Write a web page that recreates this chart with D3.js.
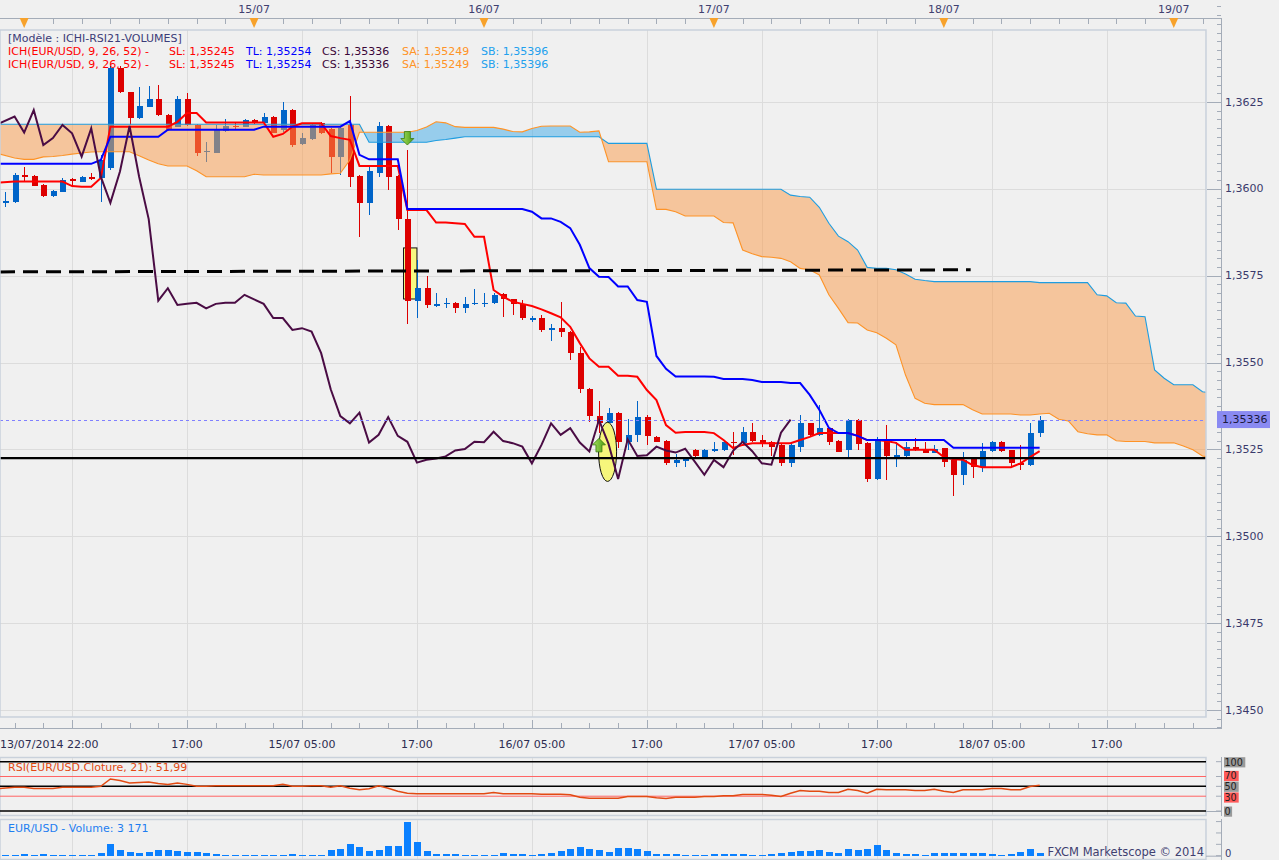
<!DOCTYPE html>
<html><head><meta charset="utf-8"><title>EUR/USD Ichimoku</title>
<script src="https://cdn.jsdelivr.net/npm/d3@7"></script>
<style>
html,body{margin:0;padding:0;background:#f0f0f0;overflow:hidden}
svg{display:block}
text{font-family:"DejaVu Sans",Verdana,sans-serif;font-size:11px}
</style></head><body>
<svg id="chart" width="1279" height="860"></svg>
<script>
// ---------- DATA (hourly candles, index 0 = 13/07/2014 22:00) ----------
const opens = [1.35961,1.35963,1.36040,1.36037,1.36011,1.35980,1.35992,1.36028,1.36021,1.36033,
1.36031,1.36060,1.36347,1.36278,1.36203,1.36237,1.36258,1.36213,1.36179,1.36258,
1.36184,1.36107,1.36104,1.36167,1.36182,1.36179,1.36198,1.36189,1.36208,1.36170,
1.36227,1.36128,1.36143,1.36189,1.36172,1.36093,1.36184,1.36037,1.35960,1.36047,
1.36181,1.36037,1.35913,1.35678,1.35714,1.35664,1.35668,1.35672,1.35656,1.35668,
1.35671,1.35671,1.35697,1.35682,1.35669,1.35626,1.35628,1.35594,1.35599,1.35589,
1.35527,1.35423,1.35346,1.35325,1.35356,1.35270,1.35292,1.35343,1.35287,1.35274,
1.35212,1.35218,1.35249,1.35228,1.35245,1.35247,1.35272,1.35268,1.35301,1.35277,
1.35272,1.35263,1.35210,1.35258,1.35325,1.35292,1.35311,1.35275,1.35247,1.35335,
1.35268,1.35165,1.35279,1.35231,1.35231,1.35256,1.35249,1.35241,1.35253,1.35220,
1.35177,1.35224,1.35199,1.35245,1.35272,1.35247,1.35210,1.35206,1.35297];
const highs = [1.35992,1.36046,1.36063,1.36039,1.36013,1.35997,1.36031,1.36031,1.36037,1.36046,
1.36098,1.36354,1.36354,1.36279,1.36294,1.36296,1.36299,1.36216,1.36267,1.36275,
1.36187,1.36136,1.36184,1.36200,1.36189,1.36201,1.36200,1.36218,1.36210,1.36251,
1.36230,1.36160,1.36189,1.36193,1.36175,1.36178,1.36267,1.36040,1.36064,1.36193,
1.36184,1.36040,1.36112,1.35795,1.35749,1.35700,1.35685,1.35674,1.35690,1.35711,
1.35700,1.35701,1.35700,1.35683,1.35680,1.35634,1.35637,1.35611,1.35675,1.35591,
1.35546,1.35427,1.35388,1.35369,1.35358,1.35337,1.35388,1.35349,1.35289,1.35277,
1.35237,1.35228,1.35251,1.35251,1.35270,1.35274,1.35301,1.35314,1.35327,1.35292,
1.35275,1.35266,1.35268,1.35349,1.35327,1.35378,1.35312,1.35277,1.35338,1.35338,
1.35272,1.35285,1.35320,1.35272,1.35270,1.35282,1.35272,1.35263,1.35255,1.35225,
1.35244,1.35226,1.35268,1.35274,1.35273,1.35249,1.35263,1.35325,1.35346];
const lows = [1.35949,1.35959,1.36021,1.36007,1.35977,1.35977,1.35991,1.36006,1.36020,1.36026,
1.35963,1.36054,1.36276,1.36184,1.36202,1.36236,1.36211,1.36167,1.36178,1.36181,
1.36095,1.36078,1.36103,1.36165,1.36170,1.36178,1.36187,1.36187,1.36161,1.36165,
1.36121,1.36126,1.36141,1.36158,1.36045,1.36040,1.36006,1.35862,1.35925,1.36035,
1.35997,1.35882,1.35611,1.35628,1.35656,1.35661,1.35656,1.35642,1.35642,1.35666,
1.35661,1.35670,1.35630,1.35637,1.35623,1.35618,1.35589,1.35563,1.35573,1.35508,
1.35412,1.35330,1.35297,1.35297,1.35253,1.35249,1.35270,1.35263,1.35271,1.35205,
1.35200,1.35199,1.35226,1.35226,1.35243,1.35246,1.35234,1.35266,1.35272,1.35258,
1.35231,1.35203,1.35199,1.35244,1.35290,1.35290,1.35263,1.35243,1.35229,1.35249,
1.35157,1.35163,1.35162,1.35200,1.35228,1.35246,1.35239,1.35239,1.35199,1.35117,
1.35148,1.35167,1.35186,1.35243,1.35243,1.35198,1.35191,1.35203,1.35285];
const closes = [1.35965,1.36040,1.36035,1.36009,1.35980,1.35994,1.36026,1.36024,1.36035,1.36028,
1.36083,1.36347,1.36278,1.36203,1.36239,1.36258,1.36213,1.36170,1.36258,1.36184,
1.36104,1.36109,1.36170,1.36181,1.36177,1.36198,1.36189,1.36208,1.36162,1.36227,
1.36126,1.36146,1.36184,1.36160,1.36093,1.36174,1.36035,1.35960,1.36050,1.36181,
1.36035,1.35913,1.35678,1.35714,1.35666,1.35669,1.35672,1.35656,1.35669,1.35672,
1.35672,1.35695,1.35682,1.35669,1.35628,1.35628,1.35594,1.35599,1.35589,1.35527,
1.35423,1.35346,1.35325,1.35356,1.35270,1.35292,1.35343,1.35289,1.35272,1.35212,
1.35220,1.35224,1.35230,1.35247,1.35251,1.35272,1.35271,1.35301,1.35274,1.35268,
1.35258,1.35210,1.35263,1.35325,1.35292,1.35311,1.35270,1.35244,1.35335,1.35266,
1.35165,1.35279,1.35231,1.35233,1.35258,1.35247,1.35241,1.35252,1.35215,1.35177,
1.35220,1.35199,1.35246,1.35272,1.35245,1.35210,1.35206,1.35298,1.35336];
// Tenkan (SL, red)
const tenkan = [1.36018,1.36021,1.36021,1.36021,1.36021,1.36021,1.36021,1.36008,1.36006,1.36006,
1.36031,1.36179,1.36179,1.36179,1.36179,1.36179,1.36179,1.36179,1.36193,1.36218,
1.36218,1.36191,1.36191,1.36191,1.36191,1.36191,1.36191,1.36191,1.36150,1.36158,
1.36179,1.36189,1.36189,1.36189,1.36152,1.36146,1.36141,1.36066,1.36066,1.36066,
1.36066,1.36066,1.35939,1.35939,1.35939,1.35903,1.35903,1.35901,1.35899,1.35862,
1.35862,1.35709,1.35690,1.35675,1.35669,1.35663,1.35653,1.35642,1.35630,1.35603,
1.35556,1.35512,1.35488,1.35488,1.35462,1.35462,1.35459,1.35421,1.35392,1.35320,
1.35298,1.35300,1.35300,1.35300,1.35297,1.35277,1.35254,1.35263,1.35268,1.35268,
1.35268,1.35268,1.35268,1.35277,1.35286,1.35297,1.35297,1.35297,1.35297,1.35289,
1.35277,1.35277,1.35274,1.35269,1.35249,1.35249,1.35249,1.35249,1.35228,1.35222,
1.35220,1.35205,1.35199,1.35199,1.35199,1.35199,1.35210,1.35228,1.35245];
// Kijun (TL, blue)
const kijun = [1.36072,1.36072,1.36072,1.36072,1.36072,1.36072,1.36072,1.36072,1.36072,1.36072,
1.36083,1.36150,1.36150,1.36150,1.36150,1.36150,1.36150,1.36170,1.36170,1.36170,
1.36170,1.36170,1.36170,1.36170,1.36170,1.36170,1.36170,1.36179,1.36179,1.36179,
1.36179,1.36179,1.36179,1.36179,1.36179,1.36179,1.36195,1.36098,1.36085,1.36085,
1.36085,1.36085,1.35942,1.35942,1.35942,1.35942,1.35942,1.35942,1.35942,1.35942,
1.35942,1.35942,1.35942,1.35942,1.35942,1.35934,1.35915,1.35915,1.35905,1.35887,
1.35839,1.35772,1.35747,1.35746,1.35719,1.35719,1.35680,1.35675,1.35519,1.35482,
1.35460,1.35460,1.35460,1.35460,1.35459,1.35453,1.35453,1.35453,1.35450,1.35444,
1.35444,1.35444,1.35441,1.35441,1.35407,1.35364,1.35312,1.35297,1.35297,1.35289,
1.35277,1.35277,1.35277,1.35277,1.35277,1.35277,1.35277,1.35277,1.35277,1.35255,
1.35255,1.35255,1.35255,1.35255,1.35255,1.35255,1.35255,1.35255,1.35255];
// Senkou span A (SA, orange) and B (SB, light blue), already displaced 26 bars forward
const spanA = [1.36100,1.36089,1.36085,1.36085,1.36092,1.36093,1.36096,1.36100,1.36103,1.36106,
1.36107,1.36107,1.36107,1.36107,1.36095,1.36083,1.36072,1.36066,1.36066,1.36066,
1.36052,1.36035,1.36035,1.36035,1.36035,1.36035,1.36042,1.36040,1.36040,1.36040,
1.36040,1.36040,1.36040,1.36040,1.36043,1.36045,1.36083,1.36163,1.36163,1.36163,
1.36163,1.36163,1.36163,1.36168,1.36178,1.36193,1.36190,1.36179,1.36177,1.36177,
1.36177,1.36177,1.36172,1.36165,1.36164,1.36174,1.36180,1.36181,1.36181,1.36181,
1.36163,1.36164,1.36167,1.36078,1.36078,1.36078,1.36078,1.36078,1.35941,1.35941,
1.35934,1.35922,1.35922,1.35922,1.35922,1.35903,1.35902,1.35824,1.35813,1.35805,
1.35803,1.35800,1.35790,1.35771,1.35767,1.35752,1.35695,1.35656,1.35615,1.35614,
1.35594,1.35586,1.35570,1.35551,1.35464,1.35397,1.35383,1.35379,1.35379,1.35379,
1.35379,1.35364,1.35352,1.35352,1.35352,1.35352,1.35349,1.35349,1.35352,1.35354,
1.35337,1.35332,1.35301,1.35295,1.35292,1.35292,1.35275,1.35273,1.35273,1.35273,
1.35269,1.35269,1.35269,1.35260,1.35249,1.35231,1.35226];
const spanB = [1.36186,1.36186,1.36186,1.36186,1.36186,1.36186,1.36186,1.36186,1.36186,1.36186,
1.36186,1.36186,1.36186,1.36186,1.36186,1.36186,1.36186,1.36186,1.36186,1.36186,
1.36186,1.36186,1.36186,1.36186,1.36186,1.36186,1.36186,1.36186,1.36186,1.36186,
1.36186,1.36186,1.36186,1.36186,1.36186,1.36186,1.36186,1.36186,1.36134,1.36134,
1.36134,1.36134,1.36134,1.36134,1.36134,1.36139,1.36142,1.36146,1.36150,1.36150,
1.36150,1.36150,1.36150,1.36150,1.36150,1.36150,1.36150,1.36150,1.36150,1.36150,
1.36150,1.36150,1.36150,1.36131,1.36131,1.36131,1.36131,1.36131,1.35999,1.35999,
1.35999,1.35999,1.35999,1.35999,1.35999,1.35999,1.35999,1.35999,1.35999,1.35999,
1.35999,1.35999,1.35982,1.35978,1.35976,1.35947,1.35901,1.35864,1.35848,1.35824,
1.35774,1.35771,1.35771,1.35767,1.35755,1.35740,1.35736,1.35733,1.35733,1.35733,
1.35733,1.35733,1.35733,1.35733,1.35733,1.35733,1.35733,1.35733,1.35730,1.35730,
1.35730,1.35730,1.35730,1.35730,1.35695,1.35692,1.35672,1.35671,1.35634,1.35632,
1.35479,1.35455,1.35436,1.35436,1.35436,1.35416,1.35412];
// RSI(21)
const rsi = [45.6,48.3,48.3,45.6,45.6,45.6,48.3,48.3,48.3,48.3,
50,65,62,57,58,59,56,54,57,54,
50,50,51,51,51,51,51,51,51,54,
50,50,51,51,48,51,46,43,45,51,
46,40,36,35,35,35,35,35,35,35,
35,37.6,35,35,35,35,34,34,34,33,
28,26,26,26,26,29.5,29.5,29.5,27,25.5,
28,28,28,29.5,29.5,31,31,33.6,33.6,33.6,
32,29.5,36,41.6,40,40,37.6,37.6,44,41.6,
36,44,43,43,43,41.6,41.6,44,40,37.6,
43,43,43,45.6,45.6,43,43,49.7,51.99];
// Volume
const volumes = [700,700,1760,1060,1760,1060,1060,1060,1060,1060,
2820,12330,5990,3880,3170,3880,5990,5990,4930,3880,
3880,2820,1760,1060,1060,1060,1060,1060,1060,1060,
1760,1060,1060,1060,5990,7050,12330,9160,4930,5990,
10220,10220,35580,14450,4930,1760,1760,1760,1060,1060,
1060,1060,2820,1760,1760,1060,1760,2820,4930,7050,
9160,7050,5990,3880,8100,8100,7050,4930,1760,1760,
1760,1060,1060,1060,1760,1760,1760,1760,1060,1060,
1760,2820,3880,4930,4930,5990,3880,2820,7050,5990,
7050,11270,5990,2820,1760,1760,1060,2820,2820,2820,
2820,2820,2820,1760,1060,1760,3880,7050,3171];
// axis / annotation values
const priceTicks = [1.3450,1.3475,1.3500,1.3525,1.3550,1.3575,1.3600,1.3625];
const xLabelIdx = [0,19,31,43,55,67,79,91,103,115];
const xLabelText = ["13/07/2014 22:00","17:00","15/07 05:00","17:00","16/07 05:00","17:00","17/07 05:00","17:00","18/07 05:00","17:00"];
const gridIdx = [7,19,31,43,55,67,79,91,103,115];
const dayIdx = [2,26,50,74,98,122];
const dayText = ["","15/07","16/07","17/07","18/07","19/07"];
const rsiLevels = [100,70,50,30,0];
const volTicks = [0,12000,24000,36000];
const legendNames = ["SL","TL","CS","SA","SB"];
const legendVals = [1.35245,1.35254,1.35336,1.35249,1.35396];
const trendLine = [[-0.52,1.35761],[100.8,1.35767]];
const supportLevel = 1.35225;
const boxMark = {i0:41.6,i1:43.0,p0:1.35830,p1:1.35683};
const ellipseMark = {i:62.9,p:1.35243,ri:0.94,rp:0.00085};
const sellSignal = {i:42,p:1.36165};
const buySignal = {i:62,p:1.35243};

// ---------- SCALES ----------
const W=1279,H=860, PR=1206, PT=30, PB=717, AX=1221;
const svg=d3.select('#chart');
const x=d3.scaleLinear().domain([0,125]).range([5,5+125*9.58]);
const y=d3.scaleLinear().domain([1.3450,1.3625]).range([710,102]);
const yR=d3.scaleLinear().domain([0,100]).range([811,761.7]);
const yV=d3.scaleLinear().domain([0,40000]).range([855.7,817.8]);
const loc=d3.formatLocale({decimal:",",thousands:" ",grouping:[3],currency:["",""]});
const f4=loc.format(".4f"), f5=loc.format(".5f"), f2=loc.format(".2f"), fI=loc.format(",d");
const xl = i => i===0 ? 0 : x(i);   // lines start at the left frame edge

svg.append('rect').attr('width',W).attr('height',H).attr('fill','#f0f0f0');
const defs=svg.append('defs');
defs.append('clipPath').attr('id','cMain').append('rect').attr('x',0).attr('y',PT).attr('width',PR).attr('height',PB-PT);
defs.append('clipPath').attr('id','cR').append('rect').attr('x',0).attr('y',758).attr('width',PR).attr('height',57);
defs.append('clipPath').attr('id','cV').append('rect').attr('x',0).attr('y',819).attr('width',PR).attr('height',40);
const cIdx=d3.range(spanA.length);
defs.append('clipPath').attr('id','cAbove').append('path')
  .attr('d',d3.area().x(xl).y0(0).y1(i=>y(spanA[i]))(cIdx));
defs.append('clipPath').attr('id','cBelow').append('path')
  .attr('d',d3.area().x(xl).y0(i=>y(spanA[i])).y1(H)(cIdx));
const gr=defs.append('linearGradient').attr('id','gArrow').attr('x1',0).attr('x2',1).attr('y1',0).attr('y2',0);
gr.append('stop').attr('offset','0%').attr('stop-color','#a6e060');
gr.append('stop').attr('offset','100%').attr('stop-color','#4c9c14');

// ---------- TOP AXIS ----------
svg.append('line').attr('x1',0).attr('x2',AX).attr('y1',18.5).attr('y2',18.5).attr('stroke','#a4acb8');
svg.append('g').selectAll('line').data(d3.range(2,126,3)).join('line')
  .attr('x1',i=>Math.round(x(i))+.5).attr('x2',i=>Math.round(x(i))+.5).attr('y1',18.5).attr('y2',24)
  .attr('stroke','#a4acb8');
svg.append('g').selectAll('path').data(dayIdx).join('path')
  .attr('d',i=>{const c=x(i);return `M${c-4.5},18 L${c+4.5},18 L${c},28 Z`;}).attr('fill','#f7a22c');
svg.append('g').selectAll('text').data(dayIdx).join('text')
  .attr('x',i=>x(i)).attr('y',9).attr('text-anchor','middle').attr('dominant-baseline','central')
  .attr('fill','#404070').text((d,k)=>dayText[k]);

// ---------- MAIN PLOT ----------
const g=svg.append('g').attr('clip-path','url(#cMain)');
g.selectAll('.hg').data(priceTicks).join('line').attr('class','hg')
  .attr('x1',0).attr('x2',PR).attr('y1',d=>Math.round(y(d))+.5).attr('y2',d=>Math.round(y(d))+.5).attr('stroke','#dcdcdc');
g.selectAll('.vg').data(gridIdx).join('line').attr('class','vg')
  .attr('x1',i=>Math.round(x(i))+.5).attr('x2',i=>Math.round(x(i))+.5).attr('y1',PT).attr('y2',PB).attr('stroke','#dcdcdc');

// yellow highlight box
g.append('rect').attr('x',x(boxMark.i0)).attr('y',y(boxMark.p0))
  .attr('width',x(boxMark.i1)-x(boxMark.i0)).attr('height',y(boxMark.p1)-y(boxMark.p0))
  .attr('fill','#f8f880').attr('stroke','#111').attr('stroke-width',1);

// candles
const cIdxC=d3.range(opens.length);
const col=i=>closes[i]>=opens[i]?'#0064c8':'#dd0000';
const cg=g.append('g').attr('shape-rendering','crispEdges');
cg.selectAll('.wk').data(cIdxC).join('line').attr('class','wk')
  .attr('x1',i=>Math.round(x(i))+.5).attr('x2',i=>Math.round(x(i))+.5)
  .attr('y1',i=>y(highs[i])).attr('y2',i=>y(lows[i])).attr('stroke',col);
cg.selectAll('.bd').data(cIdxC).join('rect').attr('class','bd')
  .attr('x',i=>Math.round(x(i))-2.5).attr('width',6)
  .attr('y',i=>y(Math.max(opens[i],closes[i])))
  .attr('height',i=>Math.max(1.5,Math.abs(y(opens[i])-y(closes[i])))).attr('fill',col);

// kumo
const kumo=d3.area().x(xl).y0(i=>y(spanA[i])).y1(i=>y(spanB[i]));
g.append('path').attr('d',kumo(cIdx)).attr('clip-path','url(#cAbove)').attr('fill','rgb(250,158,78)').attr('opacity',0.52);
g.append('path').attr('d',kumo(cIdx)).attr('clip-path','url(#cBelow)').attr('fill','rgb(62,170,232)').attr('opacity',0.5);
const ln=(arr)=>d3.line().x(xl).y(i=>y(arr[i]))(d3.range(arr.length));
g.append('path').attr('d',ln(spanB)).attr('fill','none').attr('stroke','#1e9de0').attr('stroke-width',1.1);
g.append('path').attr('d',ln(spanA)).attr('fill','none').attr('stroke','#ff9326').attr('stroke-width',1.1);

// ellipse mark
g.append('ellipse').attr('cx',x(ellipseMark.i)).attr('cy',y(ellipseMark.p))
  .attr('rx',x(ellipseMark.i+ellipseMark.ri)-x(ellipseMark.i))
  .attr('ry',y(ellipseMark.p-ellipseMark.rp)-y(ellipseMark.p))
  .attr('fill','#f6f67c').attr('stroke','#111').attr('stroke-width',1);

// tenkan / kijun / chikou
g.append('path').attr('d',ln(tenkan)).attr('fill','none').attr('stroke','#ff0000').attr('stroke-width',2);
g.append('path').attr('d',ln(kijun)).attr('fill','none').attr('stroke','#0000ff').attr('stroke-width',2);
const chikou=closes.slice(26);
g.append('path').attr('d',ln(chikou)).attr('fill','none').attr('stroke','#4a0c44').attr('stroke-width',2);

// horizontal lines
g.append('line').attr('x1',x(trendLine[0][0])).attr('y1',y(trendLine[0][1]))
  .attr('x2',x(trendLine[1][0])).attr('y2',y(trendLine[1][1]))
  .attr('stroke','#000').attr('stroke-width',3).attr('stroke-dasharray','15,8');
g.append('line').attr('x1',0).attr('x2',PR).attr('y1',y(supportLevel)).attr('y2',y(supportLevel))
  .attr('stroke','#000').attr('stroke-width',2.2);
const last=closes[closes.length-1];
g.append('line').attr('x1',0).attr('x2',PR).attr('y1',Math.round(y(last))+.5).attr('y2',Math.round(y(last))+.5)
  .attr('stroke','#8080ff').attr('stroke-dasharray','3,3');

// signal arrows
const sx=x(sellSignal.i), sy=y(sellSignal.p);
g.append('path').attr('d',`M${sx-3},${sy} L${sx+3},${sy} L${sx+3},${sy+7} L${sx+6.5},${sy+7} L${sx},${sy+13.5} L${sx-6.5},${sy+7} L${sx-3},${sy+7} Z`)
  .attr('fill','url(#gArrow)').attr('stroke','#3a7a0c').attr('stroke-width',0.8);
const bx=x(buySignal.i), by=y(buySignal.p);
g.append('path').attr('d',`M${bx-3},${by} L${bx+3},${by} L${bx+3},${by-7} L${bx+6.5},${by-7} L${bx},${by-13.5} L${bx-6.5},${by-7} L${bx-3},${by-7} Z`)
  .attr('fill','url(#gArrow)').attr('stroke','#3a7a0c').attr('stroke-width',0.8);

// legend
g.append('text').attr('x',8).attr('y',38).attr('dominant-baseline','central').attr('fill','#3c3c78').text('[Modèle : ICHI-RSI21-VOLUMES]');
const legCol=['#ff0000','#0000ff','#3a0638','#ff9326','#22a0ee'];
const legX=[169,246,322,402,481];
[51,64].forEach(yy=>{
  g.append('text').attr('x',8).attr('y',yy).attr('dominant-baseline','central').attr('fill','#ff0000').text('ICH(EUR/USD, 9, 26, 52) -');
  legendNames.forEach((n,k)=>{
    g.append('text').attr('x',legX[k]).attr('y',yy).attr('dominant-baseline','central').attr('fill',legCol[k]).text(n+': '+f5(legendVals[k]));
  });
});

// frame
svg.append('rect').attr('x',0).attr('y',PT).attr('width',PR).attr('height',PB-PT).attr('fill','none').attr('stroke','#c9d1db').attr('stroke-width',1.5);

// ---------- RIGHT PRICE AXIS ----------
svg.append('line').attr('x1',AX+.5).attr('x2',AX+.5).attr('y1',18).attr('y2',729).attr('stroke','#a4acb8');
const minor=d3.range(0,84).map(k=>1.3445+k*0.00025);
svg.append('g').selectAll('line').data(minor).join('line')
  .attr('x1',AX-4).attr('x2',AX).attr('y1',d=>Math.round(y(d))+.5).attr('y2',d=>Math.round(y(d))+.5).attr('stroke','#a4acb8');
svg.append('g').selectAll('line').data(priceTicks).join('line')
  .attr('x1',PR+1).attr('x2',AX).attr('y1',d=>Math.round(y(d))+.5).attr('y2',d=>Math.round(y(d))+.5).attr('stroke','#a4acb8');
svg.append('g').selectAll('text').data(priceTicks).join('text')
  .attr('x',AX+4).attr('y',d=>y(d)).attr('dominant-baseline','central').attr('fill','#3a3a6c').text(d=>f4(d));
svg.append('rect').attr('x',AX-4).attr('y',y(last)-8.5).attr('width',53).attr('height',17).attr('fill','#8a8af2');
svg.append('text').attr('x',AX+1).attr('y',y(last)).attr('dominant-baseline','central').attr('fill','#1a1a40').text(f5(last));

// ---------- BOTTOM TIME AXIS ----------
svg.append('line').attr('x1',0).attr('x2',AX).attr('y1',728.5).attr('y2',728.5).attr('stroke','#a4acb8');
svg.append('g').selectAll('line').data(d3.range(1,126,3)).join('line')
  .attr('x1',i=>Math.round(x(i))+.5).attr('x2',i=>Math.round(x(i))+.5)
  .attr('y1',i=>((i-7)%12===0)?720:723).attr('y2',728.5).attr('stroke','#a4acb8');
svg.append('g').selectAll('text').data(xLabelIdx).join('text')
  .attr('x',i=>i===0?0:x(i)).attr('y',744).attr('text-anchor',i=>i===0?'start':'middle')
  .attr('dominant-baseline','central').attr('fill','#2c2c50').text((d,k)=>xLabelText[k]);

// ---------- RSI PANEL ----------
svg.append('rect').attr('x',0).attr('y',757.5).attr('width',PR).attr('height',58).attr('fill','#f0f0f0').attr('stroke','#c9d1db').attr('stroke-width',1.5);
const gR=svg.append('g').attr('clip-path','url(#cR)');
gR.selectAll('.vg').data(gridIdx).join('line')
  .attr('x1',i=>Math.round(x(i))+.5).attr('x2',i=>Math.round(x(i))+.5).attr('y1',758).attr('y2',815).attr('stroke','#dcdcdc');
gR.selectAll('.lv').data(rsiLevels).join('line')
  .attr('x1',0).attr('x2',PR).attr('y1',d=>yR(d)).attr('y2',d=>yR(d))
  .attr('stroke',d=>(d===70||d===30)?'#ff6464':'#000').attr('stroke-width',d=>(d===70||d===30)?1:1.5);
gR.append('path').attr('d',d3.line().x(xl).y(i=>yR(rsi[i]))(d3.range(rsi.length)))
  .attr('fill','none').attr('stroke','#e24a12').attr('stroke-width',1.5);
svg.append('text').attr('x',8).attr('y',767).attr('dominant-baseline','central').attr('fill','#e24a12')
  .text('RSI(EUR/USD.Cloture, 21): '+f2(rsi[rsi.length-1]));
svg.append('line').attr('x1',AX+.5).attr('x2',AX+.5).attr('y1',757).attr('y2',816).attr('stroke','#a4acb8');
svg.append('line').attr('x1',PR).attr('x2',AX).attr('y1',yR(0)+.5).attr('y2',yR(0)+.5).attr('stroke','#a4acb8');
svg.append('g').selectAll('line').data(rsiLevels).join('line')
  .attr('x1',AX-5).attr('x2',AX).attr('y1',d=>yR(d)).attr('y2',d=>yR(d)).attr('stroke','#a4acb8');
// label centres nudged apart slightly so the 70/50/30 boxes stack like the reference
const rsiLabelOffset = {100:0.5,70:-0.6,50:0.3,30:1.2,0:0.5};
rsiLevels.forEach(v=>{
  const t=String(v), cy=yR(v)+rsiLabelOffset[v];
  svg.append('rect').attr('x',AX+3).attr('y',cy-5).attr('width',t.length*6.6+1.5).attr('height',10.2)
    .attr('fill',(v===70||v===30)?'#ff5a5a':'#9a9a9a');
  svg.append('text').attr('x',AX+3.5).attr('y',cy).attr('dominant-baseline','central').attr('fill','#202020')
    .style('font-size','9.6px').text(t);
});

// ---------- VOLUME PANEL ----------
svg.append('rect').attr('x',0).attr('y',819.5).attr('width',PR).attr('height',40).attr('fill','#f0f0f0').attr('stroke','#c9d1db').attr('stroke-width',1.5);
const gV=svg.append('g').attr('clip-path','url(#cV)');
gV.selectAll('.vg').data(gridIdx).join('line')
  .attr('x1',i=>Math.round(x(i))+.5).attr('x2',i=>Math.round(x(i))+.5).attr('y1',820).attr('y2',860).attr('stroke','#dcdcdc');
gV.selectAll('.vb').data(d3.range(volumes.length)).join('rect')
  .attr('x',i=>Math.round(x(i))-3).attr('width',6.5)
  .attr('y',i=>yV(volumes[i])).attr('height',i=>yV(0)-yV(volumes[i])).attr('fill','#0a80ff').attr('shape-rendering','crispEdges');
svg.append('text').attr('x',8).attr('y',828).attr('dominant-baseline','central').attr('fill','#1e7ef0')
  .text('EUR/USD - Volume: '+fI(volumes[volumes.length-1]));
svg.append('text').attr('x',1204).attr('y',852).attr('text-anchor','end').attr('dominant-baseline','central').attr('fill','#404070')
  .style('font-size','11.5px').text('FXCM Marketscope © 2014');
svg.append('line').attr('x1',AX+.5).attr('x2',AX+.5).attr('y1',819).attr('y2',860).attr('stroke','#a4acb8');
svg.append('line').attr('x1',PR).attr('x2',AX).attr('y1',yV(0)+.5).attr('y2',yV(0)+.5).attr('stroke','#a4acb8');
svg.append('g').selectAll('line').data(volTicks).join('line')
  .attr('x1',AX-5).attr('x2',AX).attr('y1',d=>yV(d)).attr('y2',d=>yV(d)).attr('stroke','#a4acb8');
svg.append('text').attr('x',AX+4).attr('y',853).attr('dominant-baseline','central').attr('fill','#3a3a6c').style('font-size','10px').text('0');
</script>
</body></html>
